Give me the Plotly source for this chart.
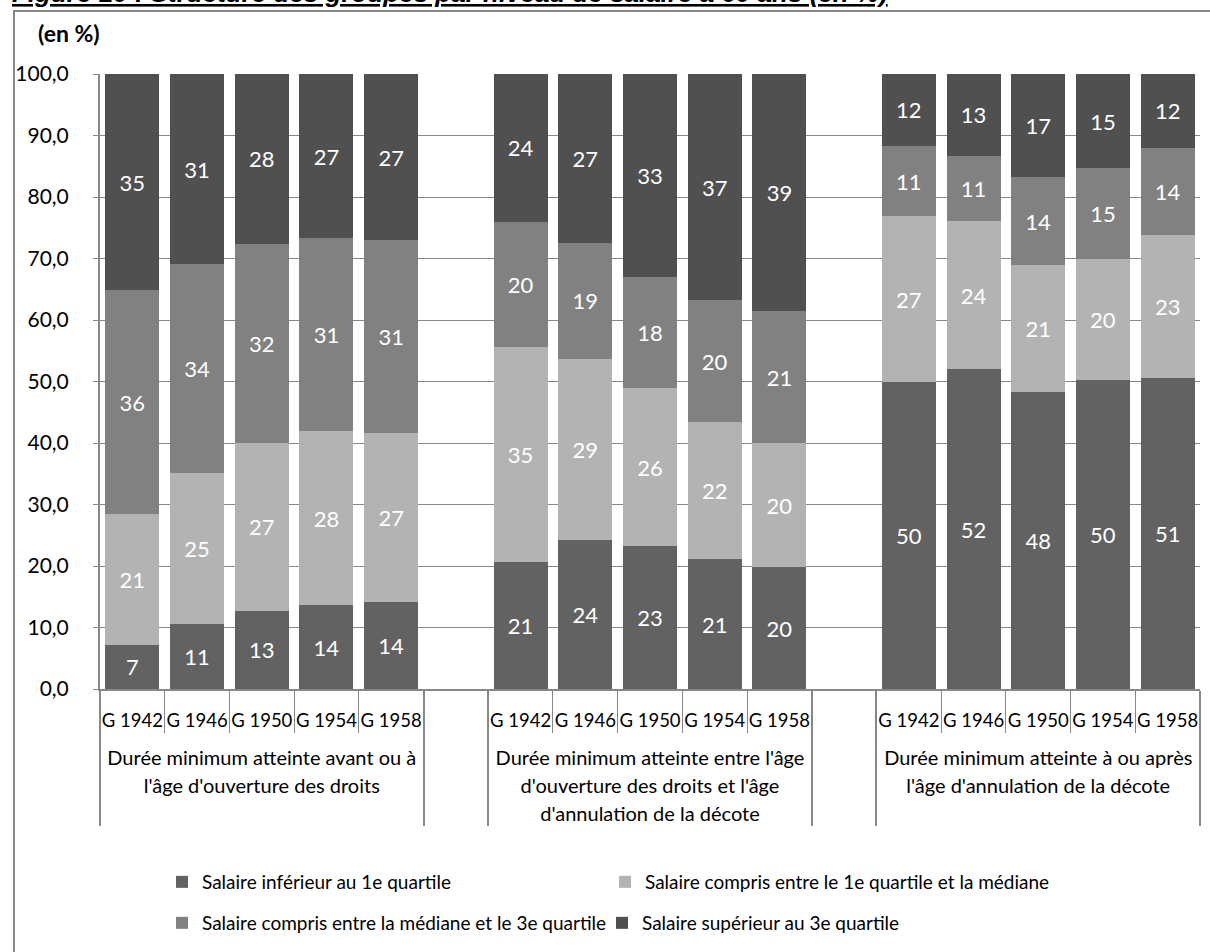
import plotly.graph_objects as go

# ---- data ----
groups = [
    "Durée minimum atteinte avant ou à<br>l'âge d'ouverture des droits",
    "Durée minimum atteinte entre l'âge<br>d'ouverture des droits et l'âge<br>d'annulation de la décote",
    "Durée minimum atteinte à ou après<br>l'âge d'annulation de la décote",
]
cohorts = ["G 1942", "G 1946", "G 1950", "G 1954", "G 1958"]

series_names = [
    "Salaire inférieur au 1e quartile",
    "Salaire compris entre le 1e quartile et la médiane",
    "Salaire compris entre la médiane et le 3e quartile",
    "Salaire supérieur au 3e quartile",
]
# values per group, per cohort (G1942..G1958)
q1 = [[7.2, 10.6, 12.7, 13.6, 14.2],
      [20.6, 24.3, 23.2, 21.1, 19.8],
      [49.9, 52.0, 48.3, 50.2, 50.6]]
q1_med = [[21.3, 24.6, 27.3, 28.3, 27.4],
          [35.0, 29.4, 25.7, 22.3, 20.2],
          [27.0, 24.1, 20.6, 19.7, 23.3]]
med_q3 = [[36.3, 33.9, 32.4, 31.4, 31.4],
          [20.4, 18.9, 18.1, 19.8, 21.4],
          [11.4, 10.6, 14.3, 14.8, 14.1]]
q3 = [[35.2, 30.9, 27.6, 26.7, 27.0],
      [24.0, 27.4, 33.0, 36.8, 38.6],
      [11.7, 13.3, 16.8, 15.3, 12.0]]
colors = ["#626262", "#b3b3b3", "#818181", "#505050"]

FONT = "Lato"

def flat(vals):
    out = []
    for gi, g in enumerate(groups):
        out.extend(vals[gi])
        if gi < len(groups) - 1:
            out.append(None)
    return out

# multicategory x with blank spacer categories between groups
GROUP_STYLE = "<span style='font-size:20px'>%s</span>"
COH_STYLE = "<span style='font-size:18.5px'>%s</span>"
SPACER_SUB = "<span style='font-size:38px'>\u00a0</span>"   # empty slot (taller blank keeps group row lower)
lvl1, lvl2 = [], []
for gi, g in enumerate(groups):
    glab = "<br>".join(GROUP_STYLE % part for part in g.split("<br>"))
    for c in cohorts:
        lvl1.append(glab)
        lvl2.append(COH_STYLE % c)
    if gi < len(groups) - 1:
        lvl1.append("\u00a0" * (gi + 1))
        lvl2.append(SPACER_SUB)

legend_ids = ["legend", "legend2", "legend3", "legend4"]

fig = go.Figure()
for i, (name, vals) in enumerate(zip(series_names, [q1, q1_med, med_q3, q3])):
    fig.add_trace(go.Bar(
        x=[lvl1, lvl2], y=flat(vals), name=name,
        marker=dict(color=colors[i], line=dict(width=0)),
        texttemplate="%{y:.0f}", textposition="inside", insidetextanchor="middle",
        textangle=0, constraintext="none",
        insidetextfont=dict(family=FONT, size=22, color="white"),
        legend=legend_ids[i],
        hoverinfo="skip",
    ))

W, H = 1210, 952
L, R, T, B = 100, 10, 74, 263
pw, ph = W - L - R, H - T - B
def px(x): return (x - L) / pw
def py(y): return (H - B - y) / ph

legend_common = dict(orientation="h", xanchor="left", yanchor="middle",
                     traceorder="normal",
                     font=dict(family=FONT, size=19, color="black"),
                     bgcolor="rgba(0,0,0,0)")
legend_pos = [(162, 882), (605, 882), (162, 923), (602, 923)]
fig.update_layout(
    width=W, height=H, barmode="stack", bargap=0.165,
    margin=dict(l=L, r=R, t=T, b=B, autoexpand=False),
    paper_bgcolor="white", plot_bgcolor="white",
    separators=", ",
    font=dict(family=FONT, color="black", size=20),
    showlegend=True,
    **{lid: dict(x=px(lx), y=py(ly), **legend_common)
       for lid, (lx, ly) in zip(legend_ids, legend_pos)},
)

fig.update_yaxes(
    range=[0, 100], tickvals=list(range(0, 101, 10)), tickformat=".1f",
    showgrid=True, gridcolor="#878787", gridwidth=1,
    showline=True, linecolor="#878787", linewidth=2,
    ticks="outside", ticklen=5, tickcolor="#878787",
    tickfont=dict(family=FONT, size=21, color="black"),
    ticklabelstandoff=20, zeroline=False, automargin=False,
)
fig.update_xaxes(
    type="multicategory", showline=True, linecolor="#878787", linewidth=2,
    ticks="outside", ticklen=42, tickcolor="#878787", tickson="boundaries",
    showdividers=True, dividercolor="#878787", dividerwidth=2,
    tickfont=dict(family=FONT, size=21.5, color="black"), tickangle=0,
    ticklabelstandoff=10, showgrid=False, automargin=False,
)

# title (partially cropped at the top), frame, unit label
fig.add_annotation(
    text="<b><i><u>Figure 10 : Structure des groupes par niveau de salaire à 60 ans (en %)</u></i></b>",
    xref="paper", yref="paper", x=px(10), y=py(10), xanchor="left", yanchor="bottom",
    showarrow=False, font=dict(family="Liberation Sans", size=26, color="black"),
)
fig.add_shape(type="rect", xref="paper", yref="paper",
              x0=px(14), x1=px(1230), y0=py(11), y1=py(980),
              line=dict(color="#878787", width=2), fillcolor="rgba(0,0,0,0)", layer="below")
fig.add_annotation(
    text="<b>(en %)</b>", xref="paper", yref="paper", x=px(69), y=py(33),
    xanchor="center", yanchor="middle", showarrow=False,
    font=dict(family=FONT, size=23, color="black"),
)

fig.write_html("out.html")
